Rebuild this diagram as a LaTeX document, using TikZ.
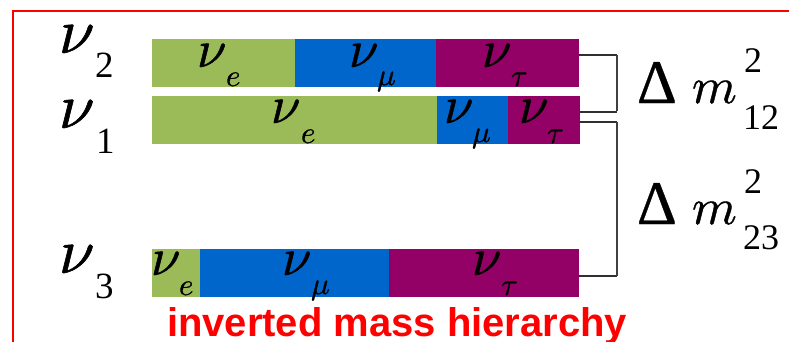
\documentclass[tikz,border=0pt]{standalone}
\usepackage{fontspec}
\setmainfont{Liberation Serif}
\newfontfamily\sansfam{Liberation Sans}
\DeclareFontFamily{OML}{cmm}{\skewchar\font'177}
\DeclareFontShape{OML}{cmm}{m}{it}{<->cmmi10}{}
\newcommand\heavy[2]{\special{pdf:literal direct 2 Tr #1 w}#2\special{pdf:literal direct 0 Tr}}
\definecolor{fgreen}{HTML}{9BBB59}
\definecolor{fblue}{HTML}{0066CC}
\definecolor{fpurple}{HTML}{930066}
\definecolor{lnk}{HTML}{303030}
\definecolor{vlnk}{HTML}{404040}
\begin{document}
\begin{tikzpicture}[x=1pt,y=-1pt,
  seg/.style={rectangle, inner sep=0pt, outer sep=0pt, minimum height=48pt, anchor=north west},
  gl/.style={inner sep=0pt, outer sep=0pt, anchor=base west},
  barnu/.style={gl, font=\fontsize{53}{53}\selectfont},
  barsub/.style={gl, font=\fontsize{31}{31}\selectfont},
  leftnu/.style={gl, font=\fontsize{64}{64}\selectfont},
  leftidx/.style={gl, font=\fontsize{37}{37}\selectfont},
  delta/.style={gl, font=\fontsize{62}{62}\selectfont},
  emm/.style={gl, font=\fontsize{51}{51}\selectfont},
  dmidx/.style={gl, font=\fontsize{36}{36}\selectfont},
  hl/.style={draw=lnk, line width=1.1pt},
  vl/.style={draw=vlnk, line width=1.8pt},
  title/.style={gl, text=red, font=\fontsize{40}{40}\selectfont\sansfam\bfseries}
]
\useasboundingbox (0,0) rectangle (789,342);
% frame
\draw[red, line width=1.4pt] (13,342) -- (13,11) -- (788.5,11);

% bars
\node[seg, fill=fgreen,  minimum width=143pt] (g2) at (152,39) {};
\node[seg, fill=fblue,   minimum width=141pt] (b2) at (295,39) {};
\node[seg, fill=fpurple, minimum width=143pt] (p2) at (436,39) {};

\node[seg, fill=fgreen,  minimum width=285pt] (g1) at (152,96) {};
\node[seg, fill=fblue,   minimum width=71pt]  (b1) at (437,96) {};
\node[seg, fill=fpurple, minimum width=72pt]  (p1) at (508,96) {};

\node[seg, fill=fgreen,  minimum width=48pt]  (g3) at (152,249) {};
\node[seg, fill=fblue,   minimum width=189pt] (b3) at (200,249) {};
\node[seg, fill=fpurple, minimum width=190pt] (p3) at (389,249) {};

% flavour labels in bars
\node[barnu] (g2n) at (197,67) {\heavy{0.5}{$\nu$}};  \node[barsub] (g2s) at (226,86) {\heavy{0.3}{$e$}};
\node[barnu] (b2n) at (349,67) {\heavy{0.5}{$\nu$}};  \node[barsub] (b2s) at (377,85) {\heavy{0.3}{$\mu$}};
\node[barnu] (p2n) at (482,67) {\heavy{0.5}{$\nu$}};  \node[barsub] (p2s) at (511,86) {\heavy{0.3}{$\tau$}};

\node[barnu] (g1n) at (271,123) {\heavy{0.5}{$\nu$}}; \node[barsub] (g1s) at (301,143) {\heavy{0.3}{$e$}};
\node[barnu] (b1n) at (444,123) {\heavy{0.5}{$\nu$}}; \node[barsub] (b1s) at (472,142) {\heavy{0.3}{$\mu$}};
\node[barnu] (p1n) at (519,123) {\heavy{0.5}{$\nu$}}; \node[barsub] (p1s) at (547,143) {\heavy{0.3}{$\tau$}};

\node[barnu] (g3n) at (151,275) {\heavy{0.5}{$\nu$}}; \node[barsub] (g3s) at (179,295) {\heavy{0.3}{$e$}};
\node[barnu] (b3n) at (282,275) {\heavy{0.5}{$\nu$}}; \node[barsub] (b3s) at (311,294) {\heavy{0.3}{$\mu$}};
\node[barnu] (p3n) at (472,275) {\heavy{0.5}{$\nu$}}; \node[barsub] (p3s) at (501,295) {\heavy{0.3}{$\tau$}};

% mass eigenstate labels
\node[leftnu] (n2) at (59,53) {\heavy{0.6}{$\nu$}};   \node[leftidx] (n2i) at (95,78) {2};
\node[leftnu] (n1) at (59,128) {\heavy{0.6}{$\nu$}};  \node[leftidx] (n1i) at (96,153) {1};
\node[leftnu] (n3) at (59,273) {\heavy{0.6}{$\nu$}};  \node[leftidx] (n3i) at (95,298) {3};

% brackets
\coordinate (c1) at (617,55);
\coordinate (c2) at (617,112);
\coordinate (c3) at (617,122);
\coordinate (c4) at (617,276);
\draw[hl] (p2.east |- c1) -- (c1);
\draw[hl] (p1.east |- c2) -- (c2);
\draw[hl] (p1.east |- c3) -- (c3);
\draw[hl] (p3.east |- c4) -- (c4);
\draw[vl] ([yshift=-0.5pt]c1) -- ([yshift=0.5pt]c2);
\draw[vl] ([yshift=-0.5pt]c3) -- ([yshift=0.5pt]c4);

% mass splittings
\node[delta] (d12) at (637,103) {\heavy{0.3}{Δ}};
\node[emm] (m12) at (692,103) {\heavy{0.4}{$m$}};
\node[dmidx] (s12) at (744,73) {2};
\node[dmidx] (i12) at (743,129) {12};

\node[delta] (d23) at (637,224) {\heavy{0.3}{Δ}};
\node[emm] (m23) at (692,224) {\heavy{0.4}{$m$}};
\node[dmidx] (s23) at (744,193) {2};
\node[dmidx] (i23) at (743,249) {23};

% title
\node[title] (ttl) at (167,336) {inverted mass hierarchy};
\end{tikzpicture}
\end{document}
